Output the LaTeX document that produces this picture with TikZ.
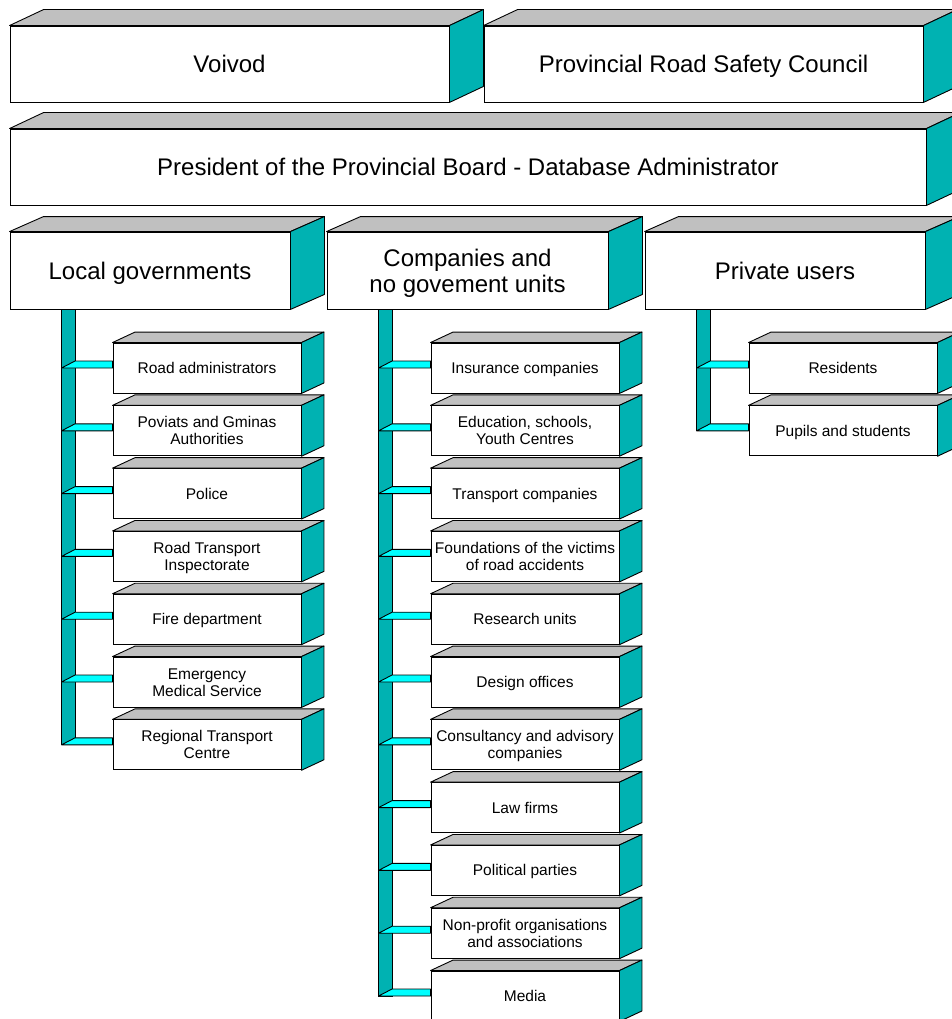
\documentclass[tikz,border=0pt]{standalone}
\usepackage{fontspec}
\setmainfont{Liberation Sans}
\usetikzlibrary{calc}
\definecolor{teal3d}{RGB}{0,178,178}
\definecolor{cyan3d}{RGB}{0,255,255}
\definecolor{gray3d}{RGB}{192,192,192}
\tikzset{
 bigbox/.style={draw=black, line width=0.9pt, fill=white, inner sep=0pt, minimum height=76, font=\fontsize{24}{26}\selectfont,
   execute at begin node={\rule{0pt}{25.2pt}}, execute at end node={\rule[-8pt]{0pt}{8pt}}},
 smallbox/.style={draw=black, line width=0.9pt, fill=white, inner sep=0pt, minimum width=188, minimum height=50, font=\fontsize{15.5}{17}\selectfont,
   execute at begin node={\rule{0pt}{17.1pt}}, execute at end node={\rule[-6pt]{0pt}{6pt}}},
 topface/.style={fill=gray3d, draw=black, line width=0.9pt, line join=round},
 sideface/.style={fill=teal3d, draw=black, line width=0.9pt, line join=round},
 bar/.style={fill=teal3d, draw=black, line width=0.9pt},
 link/.style={fill=cyan3d, draw=black, line width=0.9pt, line join=round},
}
\newcommand\bigpair[2]{\raisebox{13pt}[0pt][0pt]{\begin{tabular}[t]{@{}c@{}}#1\\#2\end{tabular}}}
\newcommand\smallpair[2]{\raisebox{8.5pt}[0pt][0pt]{\begin{tabular}[t]{@{}c@{}}#1\\#2\end{tabular}}}
\newcommand\cubefaces[3]{%
  \draw[topface] (#1.north west) -- ++(#2,-#3) -- ($(#1.north east)+(#2,-#3)$) -- (#1.north east) -- cycle;
  \draw[sideface] (#1.north east) -- ++(#2,-#3) -- ($(#1.south east)+(#2,-#3)$) -- (#1.south east) -- cycle;
}
\begin{document}
\begin{tikzpicture}[x=1pt,y=-1pt]
\useasboundingbox (0,0) rectangle (952,1019);
\clip (0,0) rectangle (952,1019);
% top level
\node[bigbox, minimum width=439] (voivod) at (229.5,64) {Voivod};
\cubefaces{voivod}{34}{16}
\node[bigbox, minimum width=439] (council) at (703.5,64) {Provincial Road Safety Council};
\cubefaces{council}{34}{16}
\node[bigbox, minimum width=916] (president) at (468,167) {President of the Provincial Board - Database Administrator};
\cubefaces{president}{34}{16}
% second level
\node[bigbox, minimum width=280, minimum height=77] (lg) at (150,270.5) {Local governments};
\cubefaces{lg}{34}{15}
\node[bigbox, minimum width=281, minimum height=77] (cg) at (467.5,270.5) {\bigpair{Companies and}{no govement units}};
\cubefaces{cg}{34}{15}
\node[bigbox, minimum width=280, minimum height=77] (pu) at (785,270.5) {Private users};
\cubefaces{pu}{34}{15}
% children
\foreach \t [count=\i] in {Road administrators, {\smallpair{Poviats and Gminas}{Authorities}}, Police, {\smallpair{Road Transport}{Inspectorate}}, Fire department, {\smallpair{Emergency}{Medical Service}}, {\smallpair{Regional Transport}{Centre}}} {
  \node[smallbox] (l\i) at (207,{368+62.8*(\i-1)}) {\t};
  \cubefaces{l\i}{22.5}{10.5}
}
\foreach \t [count=\i] in {Insurance companies, {\smallpair{Education, schools,}{Youth Centres}}, Transport companies, {\smallpair{Foundations of the victims}{of road accidents}}, Research units, Design offices, {\smallpair{Consultancy and advisory}{companies}}, Law firms, Political parties, {\smallpair{Non-profit organisations}{and associations}}, Media} {
  \node[smallbox] (m\i) at (525,{368+62.8*(\i-1)}) {\t};
  \cubefaces{m\i}{22.5}{10.5}
}
\foreach \t [count=\i] in {Residents, Pupils and students} {
  \node[smallbox] (r\i) at (843,{368+62.8*(\i-1)}) {\t};
  \cubefaces{r\i}{22.5}{10.5}
}
% bars
\coordinate (lb) at ($(lg.south west)+(52,0)$);
\coordinate (mb) at ($(cg.south west)+(52,0)$);
\coordinate (rb) at ($(pu.south west)+(52,0)$);
\draw[bar] (lb) rectangle ($(lb |- l7.west)+(13.5,0)$);
\draw[bar] (mb) rectangle ($(mb |- m11.west)+(13.5,0)$);
\draw[bar] (rb) rectangle ($(rb |- r2.west)+(13.5,0)$);
\foreach \i in {1,...,7} {
  \draw[link] (lb |- l\i.west) -- ++(13.5,-7) -- ($(l\i.west)+(0,-7)$) -- (l\i.west) -- cycle;
}
\foreach \i in {1,...,11} {
  \draw[link] (mb |- m\i.west) -- ++(13.5,-7) -- ($(m\i.west)+(0,-7)$) -- (m\i.west) -- cycle;
}
\foreach \i in {1,2} {
  \draw[link] (rb |- r\i.west) -- ++(13.5,-7) -- ($(r\i.west)+(0,-7)$) -- (r\i.west) -- cycle;
}
\end{tikzpicture}
\end{document}
